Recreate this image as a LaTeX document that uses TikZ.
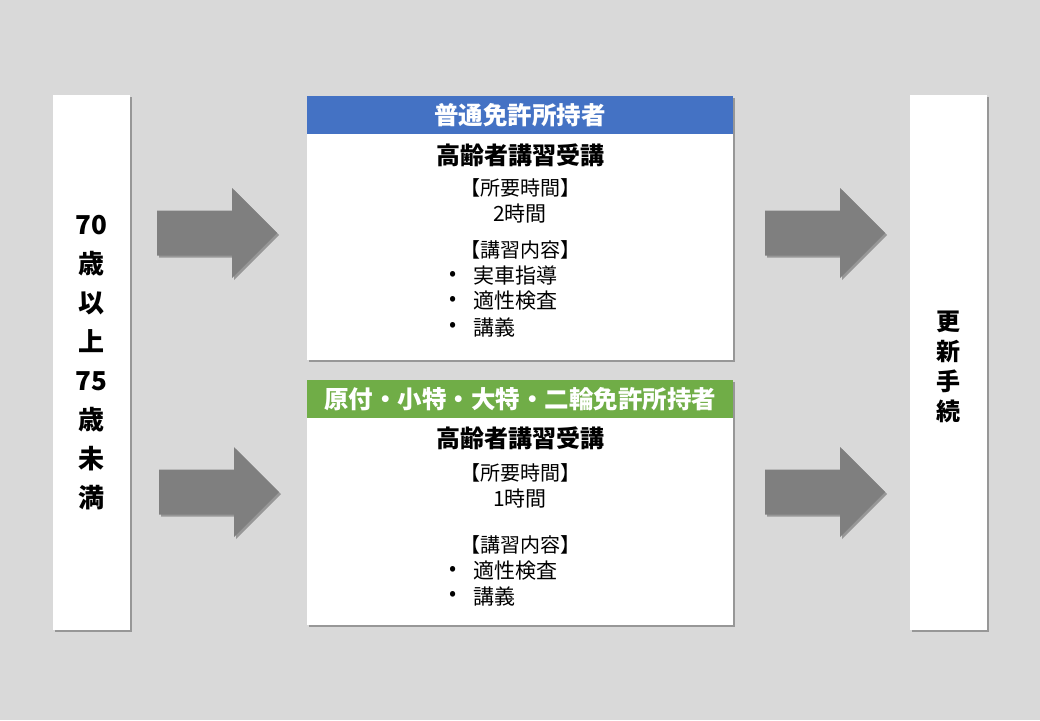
\documentclass[tikz,border=0pt]{standalone}
\usepackage{fontspec}
\setmainfont{Noto Sans CJK JP}
\usetikzlibrary{shadows}
\definecolor{bggray}{HTML}{D9D9D9}
\definecolor{headblue}{HTML}{4472C4}
\definecolor{headgreen}{HTML}{70AD47}
\definecolor{arrowgray}{HTML}{7F7F7F}
\tikzset{%
	softshadow/.style={drop shadow={shadow xshift=2pt,shadow yshift=-2pt,fill=black,opacity=0.3}},
	bar/.style={shape=rectangle,fill=white,softshadow,minimum width=77pt,inner sep=0pt,align=center},
	card/.style={shape=rectangle,fill=white,softshadow,minimum width=426pt,inner sep=0pt},
	head/.style={shape=rectangle,minimum width=426pt,minimum height=38pt,inner sep=0pt,text=white,font=\bfseries\fontsize{24.5}{28}\selectfont},
	title/.style={font=\bfseries\fontsize{24}{28}\selectfont},
	line/.style={font=\fontsize{21}{25}\selectfont,inner sep=0pt},
	bracket/.style={font=\fontsize{20}{24}\selectfont,inner sep=0pt},
	blockarrow/.pic={\fill[arrowgray,softshadow] (0,-22.5) -- (75,-22.5) -- (75,-45) -- (120,0) -- (75,45) -- (75,22.5) -- (0,22.5) -- cycle;},
}
\begin{document}
\begin{tikzpicture}[x=1pt,y=-1pt]
	\fill[bggray] (0,0) rectangle (1040,720);
	% side bars
	\node[bar,minimum height=535pt,font=\bfseries\fontsize{26}{39}\selectfont] (age) at (91.5,362.5) {70\\歳\\以\\上\\75\\歳\\未\\満};
	\node[bar,minimum height=535pt] (renew) at (948.5,362.5) {};
	\node[font=\bfseries\fontsize{24}{30}\selectfont,align=center] (renewtext) at (948.5,367) {更\\新\\手\\続};
	% cards
	\node[card,minimum height=264pt] (futsu) at (520,228) {};
	\node[head,fill=headblue,anchor=north] (futsuhead) at (futsu.north) {普通免許所持者};
	\node[card,minimum height=245pt] (nirin) at (520,502.5) {};
	\node[head,fill=headgreen,anchor=north] (nirinhead) at (nirin.north) {原付・小特・大特・二輪免許所持者};
	% texts of the upper card
	\node[title] (futsutitle) at (520,155) {高齢者講習受講};
	\node[bracket] (futsujikan) at (520,188) {【所要時間】};
	\node[line] (futsuhours) at (520,214) {2時間};
	\node[bracket] (futsunaiyo) at (520,250) {【講習内容】};
	\foreach \y/\t [count=\i] in {276/実車指導,301/適性検査,327/講義}{
		\node[line] (futsubullet\i) at (453,\y) {•};
		\node[line,anchor=west] (futsuitem\i) at (473,\y) {\t};
	}
	% texts of the lower card
	\node[title] (nirintitle) at (520,438) {高齢者講習受講};
	\node[bracket] (nirinjikan) at (520,473) {【所要時間】};
	\node[line] (nirinhours) at (520,499) {1時間};
	\node[bracket] (nirinnaiyo) at (520,545) {【講習内容】};
	\foreach \y/\t [count=\i] in {571/適性検査,596/講義}{
		\node[line] (nirinbullet\i) at (453,\y) {•};
		\node[line,anchor=west] (nirinitem\i) at (473,\y) {\t};
	}
	% arrows
	\pic at (157,233) {blockarrow};
	\pic at (159,492) {blockarrow};
	\pic at (765,233) {blockarrow};
	\pic at (765,492) {blockarrow};
\end{tikzpicture}
\end{document}
